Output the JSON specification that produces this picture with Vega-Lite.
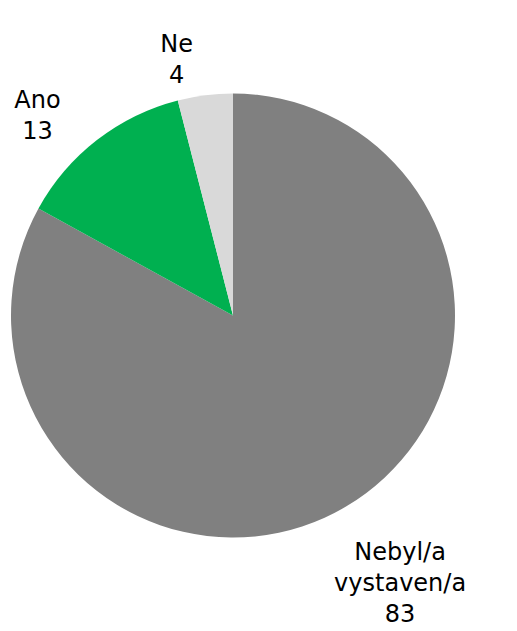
{
  "$schema": "https://vega.github.io/schema/vega-lite/v6.json",
  "width": 466,
  "height": 631,
  "autosize": {"type": "none"},
  "padding": {"left": 0, "top": 0, "right": 51, "bottom": 0},
  "background": "white",
  "view": {"stroke": null},
  "data": {
    "values": [
      {"kategorie": "Nebyl/a vystaven/a", "popisek": "Nebyl/a\nvystaven/a\n83", "hodnota": 83, "poradi": 1},
      {"kategorie": "Ano", "popisek": "Ano\n13", "hodnota": 13, "poradi": 2},
      {"kategorie": "Ne", "popisek": "Ne\n4", "hodnota": 4, "poradi": 3}
    ]
  },
  "encoding": {
    "theta": {"field": "hodnota", "type": "quantitative", "stack": true},
    "order": {"field": "poradi", "type": "quantitative"}
  },
  "layer": [
    {
      "mark": {"type": "arc", "outerRadius": 222},
      "encoding": {
        "color": {
          "field": "kategorie",
          "type": "nominal",
          "scale": {"domain": ["Nebyl/a vystaven/a", "Ano", "Ne"], "range": ["#808080", "#00B050", "#D9D9D9"]},
          "legend": null
        }
      }
    },
    {
      "mark": {"type": "text", "thetaOffset": -0.08, "fontSize": 24, "font": "DejaVu Sans", "lineBreak": "\n", "lineHeight": 31, "align": "center", "baseline": "middle", "color": "black"},
      "encoding": {
        "radius": {"field": "hodnota", "type": "quantitative", "scale": {"type": "log", "domain": [4, 13], "range": [276, 290], "clamp": true}},
        "text": {"field": "popisek", "type": "nominal"}
      }
    }
  ]
}
